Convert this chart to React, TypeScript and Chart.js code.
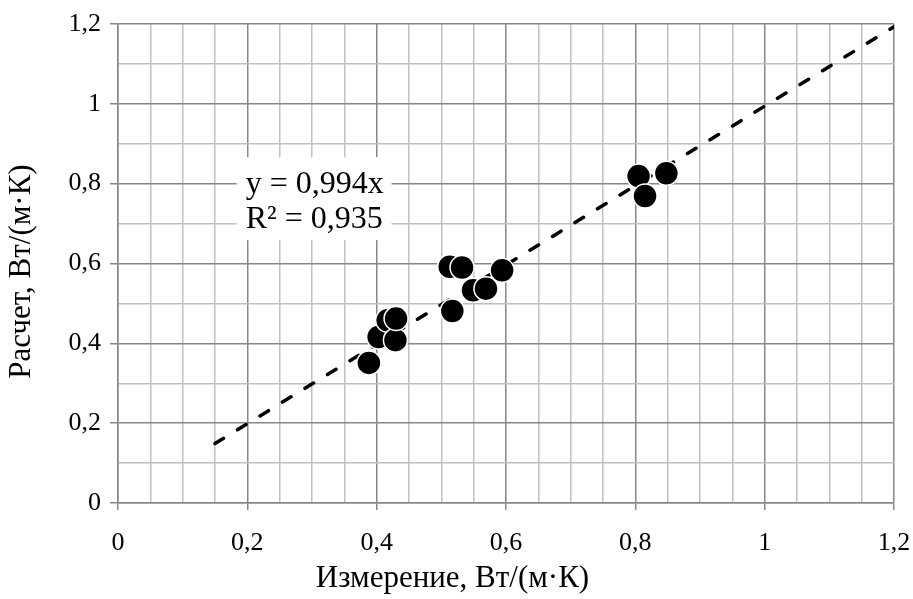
import React, { useEffect, useRef } from "react";
import { Chart, registerables } from "chart.js";

Chart.register(...registerables);

// Measured (x) vs calculated (y) thermal conductivity, W/(m·K)
const measuredX = [0.388, 0.403, 0.417, 0.429, 0.43, 0.513, 0.532, 0.517, 0.549, 0.569, 0.594, 0.805, 0.815, 0.848];
const calculatedY = [0.351, 0.416, 0.458, 0.408, 0.462, 0.592, 0.59, 0.481, 0.533, 0.537, 0.583, 0.819, 0.769, 0.826];

// Linear trendline y = 0.994x through the origin (endpoints)
const trendX = [0.15, 1.2];
const trendY = [0.149, 1.193];

const majorTickValues = [0, 0.2, 0.4, 0.6, 0.8, 1, 1.2];
const majorTickLabels = ["0", "0,2", "0,4", "0,6", "0,8", "1", "1,2"];

const equationLines = ["y = 0,994x", "R² = 0,935"];

const xTitle = "Измерение, Вт/(м·К)";
const yTitle = "Расчет, Вт/(м·К)";

const FONT = "'Liberation Serif', 'Times New Roman', serif";
const MAJOR = "#878787";
const MINOR = "#c0c0c0";

function majorIndex(v: number): number {
  return majorTickValues.findIndex((m) => Math.abs(m - v) < 1e-6);
}

const equationPlugin = {
  id: "equationLabel",
  beforeDatasetsDraw(chart: any) {
    const { ctx, scales } = chart;
    const x = scales.x;
    const y = scales.y;
    const left = x.getPixelForValue(0.1835);
    const right = x.getPixelForValue(0.423);
    const top = y.getPixelForValue(0.8666);
    const bottom = y.getPixelForValue(0.6586);
    ctx.save();
    ctx.fillStyle = "#ffffff";
    ctx.fillRect(left, top, right - left, bottom - top);
    ctx.fillStyle = "#000000";
    ctx.font = `32px ${FONT}`;
    ctx.textAlign = "left";
    ctx.textBaseline = "middle";
    const tx = x.getPixelForValue(0.1975);
    const lineYs = [0.797, 0.709];
    equationLines.forEach((line, i) => {
      ctx.fillText(line, tx, y.getPixelForValue(lineYs[i]));
    });
    ctx.restore();
  },
};

const titlesPlugin = {
  id: "axisTitles",
  afterDraw(chart: any) {
    const { ctx } = chart;
    ctx.save();
    ctx.fillStyle = "#000000";
    ctx.font = `31px ${FONT}`;
    ctx.textAlign = "center";
    ctx.textBaseline = "middle";
    ctx.fillText(xTitle, chart.width / 2 - 4, chart.height - 20);
    ctx.translate(22, chart.height / 2 - 28);
    ctx.rotate(-Math.PI / 2);
    ctx.fillText(yTitle, 0, 0);
    ctx.restore();
  },
};

export default function App() {
  const canvasRef = useRef<HTMLCanvasElement | null>(null);

  useEffect(() => {
    document.body.style.margin = "0";
    const canvas = canvasRef.current;
    if (!canvas) return;
    const chart = new Chart(canvas, {
      type: "scatter",
      data: {
        datasets: [
          {
            label: "Данные",
            data: measuredX.map((v, i) => ({ x: v, y: calculatedY[i] })),
            backgroundColor: "#000000",
            borderColor: "#ffffff",
            borderWidth: 1.5,
            pointRadius: 12,
            pointHoverRadius: 12,
          },
          {
            label: "Тренд",
            type: "line",
            data: trendX.map((v, i) => ({ x: v, y: trendY[i] })),
            borderColor: "#000000",
            borderWidth: 3.5,
            borderCapStyle: "round",
            borderDash: [10, 16.4],
            pointRadius: 0,
            fill: false,
          } as any,
        ],
      },
      options: {
        responsive: false,
        animation: false,
        events: [],
        layout: { padding: { left: 0, top: 24, right: 19, bottom: 0 } },
        plugins: {
          legend: { display: false },
          tooltip: { enabled: false },
        },
        scales: {
          x: {
            type: "linear",
            position: "bottom",
            min: 0,
            max: 1.2,
            afterFit: (scale: any) => {
              scale.height = 96;
              scale.paddingLeft = 0;
              scale.paddingRight = 0;
            },
            ticks: {
              stepSize: 0.05,
              autoSkip: false,
              maxRotation: 0,
              padding: 18,
              color: "#000000",
              font: { family: FONT, size: 26 },
              callback: (v: any) => {
                const i = majorIndex(Number(v));
                return i >= 0 ? majorTickLabels[i] : "";
              },
            },
            grid: {
              color: (c: any) => (majorIndex(c.tick?.value ?? -1) >= 0 ? MAJOR : MINOR),
              tickColor: (c: any) => (majorIndex(c.tick?.value ?? -1) >= 0 ? MAJOR : "rgba(0,0,0,0)"),
              lineWidth: 1.5,
              tickLength: 7,
              drawTicks: true,
            },
            border: { display: true, color: MAJOR, width: 1.5 },
            title: { display: false },
          },
          y: {
            type: "linear",
            min: 0,
            max: 1.2,
            afterFit: (scale: any) => {
              scale.width = 118;
              scale.paddingTop = 0;
              scale.paddingBottom = 0;
            },
            ticks: {
              stepSize: 0.1,
              autoSkip: false,
              padding: 9,
              color: "#000000",
              font: { family: FONT, size: 26 },
              callback: (v: any) => {
                const i = majorIndex(Number(v));
                return i >= 0 ? majorTickLabels[i] : "";
              },
            },
            grid: {
              color: (c: any) => (majorIndex(c.tick?.value ?? -1) >= 0 ? MAJOR : MINOR),
              tickColor: (c: any) => (majorIndex(c.tick?.value ?? -1) >= 0 ? MAJOR : "rgba(0,0,0,0)"),
              lineWidth: 1.5,
              tickLength: 8,
              drawTicks: true,
            },
            border: { display: true, color: MAJOR, width: 1.5 },
            title: { display: false },
          },
        },
      },
      plugins: [equationPlugin, titlesPlugin],
    });
    return () => chart.destroy();
  }, []);

  return (
    <div style={{ width: 913, height: 599, background: "#ffffff" }}>
      <canvas ref={canvasRef} width={913} height={599} style={{ display: "block" }} />
    </div>
  );
}
